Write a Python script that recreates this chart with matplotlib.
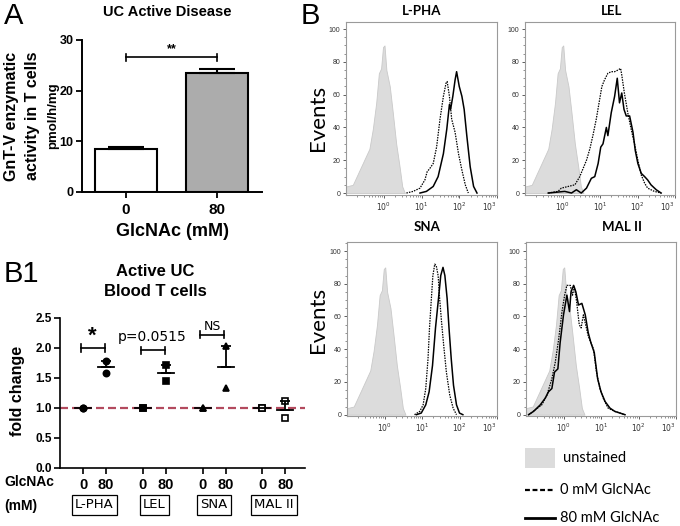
import numpy as np
import matplotlib
matplotlib.use("Agg")
import matplotlib.pyplot as plt
from matplotlib.patches import Rectangle
from matplotlib.lines import Line2D
from matplotlib.ticker import AutoMinorLocator, LogLocator, NullFormatter
from matplotlib.transforms import blended_transform_factory

plt.rcParams["font.family"] = ["Liberation Sans", "DejaVu Sans"]

W, H = 680, 526

# ---- Panel A: GnT-V activity ----
a_groups = ["0", "80"]
a_means = [8.5, 23.4]
a_sem = [0.35, 0.8]

# ---- Panel B1: fold change per lectin ----
lectins = ["L-PHA", "LEL", "SNA", "MAL II"]
fold_0mM = [[1.0, 1.0], [1.0, 1.0], [1.0, 1.0], [1.0, 1.0]]
fold_80mM = [[1.78, 1.59], [1.71, 1.45], [2.03, 1.34], [1.12, 0.83]]
b1_markers = ["o", "s", "^", "s"]
b1_filled = [True, True, True, False]

# ---- Panel B: flow histograms (log10 intensity, events) ----
unst_log = [-1.00, -0.82, -0.56, -0.38, -0.29, -0.20, -0.13, -0.07, -0.02, 0.02,
            0.07, 0.16, 0.24, 0.33, 0.42, 0.49, 0.56]
unst_cnt = [4, 5, 18, 27, 39, 55, 73, 76, 89, 90, 75, 65, 49, 30, 16, 4, 0]

lpha0_log = [0.60, 0.78, 0.96, 1.09, 1.15, 1.22, 1.31, 1.40, 1.49, 1.58, 1.65, 1.68,
             1.74, 1.80, 1.89, 1.98, 2.07, 2.16, 2.24]
lpha0_cnt = [0, 1, 3, 8, 13, 15, 18, 28, 45, 59, 67, 68, 59, 45, 37, 24, 14, 5, 0]
lpha80_log = [0.96, 1.13, 1.31, 1.44, 1.58, 1.67, 1.74, 1.77, 1.83, 1.89, 1.93, 2.00,
              2.07, 2.13, 2.20, 2.29, 2.38, 2.47]
lpha80_cnt = [0, 1, 4, 10, 24, 39, 54, 51, 59, 69, 74, 65, 59, 51, 35, 16, 4, 0]

lel0_log = [-0.38, -0.12, -0.03, 0.15, 0.33, 0.46, 0.55, 0.64, 0.73, 0.81, 0.90, 0.99,
            1.05, 1.12, 1.21, 1.30, 1.39, 1.48, 1.55, 1.58, 1.65, 1.74, 1.83, 1.92,
            2.01, 2.10, 2.19, 2.27, 2.45, 2.63]
lel0_cnt = [0, 1, 3, 4, 5, 10, 15, 20, 27, 35, 45, 57, 65, 69, 73, 74, 74, 75, 76, 72,
            61, 49, 39, 30, 20, 11, 6, 3, 1, 0]
lel80_log = [-0.38, 0.06, 0.24, 0.37, 0.50, 0.64, 0.77, 0.86, 0.95, 1.02, 1.08, 1.17,
             1.21, 1.30, 1.39, 1.46, 1.52, 1.58, 1.64, 1.70, 1.79, 1.88, 1.94, 2.01,
             2.10, 2.19, 2.27, 2.36, 2.50, 2.63]
lel80_cnt = [0, 1, 0, 2, 0, 3, 9, 10, 18, 28, 30, 40, 35, 49, 59, 70, 55, 61, 51, 47,
             47, 37, 26, 18, 12, 10, 8, 5, 2, 0]

sna0_log = [0.80, 0.94, 1.03, 1.10, 1.16, 1.20, 1.25, 1.29, 1.34, 1.38, 1.43, 1.47,
            1.52, 1.58, 1.65, 1.74, 1.83, 1.92]
sna0_cnt = [0, 2, 6, 16, 34, 53, 71, 85, 92, 91, 85, 71, 57, 42, 26, 12, 4, 0]
sna80_log = [0.85, 0.98, 1.10, 1.19, 1.28, 1.36, 1.44, 1.50, 1.56, 1.61, 1.67, 1.72,
             1.78, 1.84, 1.92, 2.00, 2.09]
sna80_cnt = [0, 1, 6, 14, 30, 53, 71, 85, 90, 85, 71, 53, 34, 18, 6, 1, 0]

mal0_log = [-0.93, -0.75, -0.58, -0.44, -0.31, -0.22, -0.13, -0.04, 0.03, 0.09, 0.18,
            0.24, 0.29, 0.35, 0.42, 0.47, 0.53, 0.59, 0.66, 0.73, 0.80, 0.88, 0.97,
            1.06, 1.19, 1.37, 1.64]
mal0_cnt = [0, 3, 6, 12, 22, 32, 46, 63, 73, 79, 79, 73, 78, 69, 55, 53, 61, 55, 48,
            44, 40, 26, 16, 10, 4, 2, 0]
mal80_log = [-0.93, -0.80, -0.62, -0.49, -0.40, -0.31, -0.24, -0.15, -0.09, 0.00, 0.09,
             0.16, 0.20, 0.27, 0.33, 0.40, 0.49, 0.58, 0.66, 0.73, 0.82, 0.91, 1.00,
             1.11, 1.24, 1.37, 1.64]
mal80_cnt = [0, 2, 6, 10, 14, 16, 26, 28, 44, 61, 73, 63, 75, 79, 75, 67, 68, 61, 50,
             44, 38, 22, 14, 8, 4, 2, 0]

flow_panels = [
    ("L-PHA", (lpha0_log, lpha0_cnt), (lpha80_log, lpha80_cnt)),
    ("LEL", (lel0_log, lel0_cnt), (lel80_log, lel80_cnt)),
    ("SNA", (sna0_log, sna0_cnt), (sna80_log, sna80_cnt)),
    ("MAL II", (mal0_log, mal0_cnt), (mal80_log, mal80_cnt)),
]


def box(l, t, r, b):
    return fig.add_axes([l / W, 1 - b / H, (r - l) / W, (b - t) / H])


def ftext(x, y, s, **kw):
    kw.setdefault("ha", "center")
    kw.setdefault("va", "center")
    return fig.text(x / W, 1 - y / H, s, **kw)


fig = plt.figure(figsize=(6.8, 5.26), dpi=100)

# ═══════════════ Panel A ═══════════════
ax = box(82, 40, 262, 192)
xa = np.arange(len(a_groups))
ax.bar(xa, a_means, width=0.68, color=["white", "#acacac"], edgecolor="black",
       linewidth=1.5, zorder=2)
ax.errorbar(xa, a_means, yerr=[[0, 0], a_sem], fmt="none", ecolor="black",
            elinewidth=1.5, capsize=13, capthick=1.5, zorder=3)
ax.set_xlim(-0.48, 1.49)
ax.set_ylim(0, 30)
ax.set_yticks([0, 10, 20, 30])
ax.set_xticks(xa)
ax.set_xticklabels(a_groups, fontsize=11, fontweight="bold")
for lab in ax.get_yticklabels():
    lab.set_fontsize(9)
    lab.set_fontweight("bold")
for s in ["top", "right"]:
    ax.spines[s].set_visible(False)
for s in ["left", "bottom"]:
    ax.spines[s].set_linewidth(1.4)
ax.tick_params(direction="out", length=4, width=1.3, pad=2)
ax.tick_params(axis="x", pad=4)
ax.plot([0, 1], [26.6, 26.6], color="black", lw=1.2)
for xe in [0, 1]:
    ax.plot([xe, xe], [25.9, 27.3], color="black", lw=1.2)
ax.text(0.5, 27.0, "**", ha="center", va="bottom", fontsize=9, fontweight="bold")

ftext(4, 16, "A", ha="left", fontsize=21)
ftext(167, 12, "UC Active Disease", fontsize=10.5, fontweight="bold")
ftext(172, 232, "GlcNAc (mM)", fontsize=13, fontweight="bold")
ftext(12, 116, "GnT-V enzymatic", rotation=90, fontsize=11.5, fontweight="bold")
ftext(32, 116, "activity in T cells", rotation=90, fontsize=11.5, fontweight="bold")
ftext(53, 116, "pmol/h/mg", rotation=90, fontsize=9.5, fontweight="bold")

# ═══════════════ Panel B1 ═══════════════
ax = box(60, 318, 305, 468)
ax.set_xlim(-1.0, 9.65)
ax.set_ylim(0, 2.5)
ax.axhline(1.0, color="#b34a5e", lw=1.6, dashes=(3.6, 1.8), zorder=1)
xpos = []
for g, name in enumerate(lectins):
    base = g * 2.6
    for dx, vals in [(0, fold_0mM[g]), (1, fold_80mM[g])]:
        x = base + dx
        xpos.append(x)
        v = np.array(vals)
        m = v.mean()
        sem = v.std(ddof=1) / np.sqrt(len(v))
        fc = "black" if b1_filled[g] else "white"
        ax.plot([x] * len(v), v, ls="none", marker=b1_markers[g], ms=4.5,
                mfc=fc, mec="black", mew=1.2, zorder=3)
        ax.plot([x - 0.35, x + 0.35], [m, m], color="black", lw=1.3, zorder=4)
        if sem > 0:
            ax.errorbar([x], [m], yerr=[[0], [sem]], fmt="none", ecolor="black",
                        elinewidth=1.3, capsize=3.5, capthick=1.3, zorder=4)
ax.set_xticks(xpos)
ax.set_xticklabels(["0", "80"] * len(lectins), fontsize=10.5, fontweight="bold")
ax.set_yticks([0.0, 0.5, 1.0, 1.5, 2.0, 2.5])
ax.set_yticklabels(["0.0", "0.5", "1.0", "1.5", "2.0", "2.5"], fontsize=8.5,
                   fontweight="bold")
for s in ["top", "right"]:
    ax.spines[s].set_visible(False)
for s in ["left", "bottom"]:
    ax.spines[s].set_linewidth(1.2)
ax.tick_params(direction="out", length=4, width=1.2, pad=2)
ax.tick_params(axis="x", pad=3)

brackets = [(0, 2.0, "*", 16, "bold", "Liberation Sans", 2.07),
            (1, 1.96, "p=0.0515", 10, "normal", "DejaVu Sans", 2.07),
            (2, 2.22, "NS", 9, "normal", "DejaVu Sans", 2.25)]
for g, yb, txt, fs, fw, fam, yt in brackets:
    x0, x1 = g * 2.6 - 0.1, g * 2.6 + 0.95
    ax.plot([x0, x1], [yb, yb], color="black", lw=1.2)
    for xe in [x0, x1]:
        ax.plot([xe, xe], [yb - 0.06, yb + 0.06], color="black", lw=1.2)
    ax.text((x0 + x1) / 2, yt if g != 0 else yb + 0.02, txt, ha="center",
            va="bottom", fontsize=fs, fontweight=fw, family=fam)

trans = blended_transform_factory(ax.transData, ax.transAxes)
for g, name in enumerate(lectins):
    ax.text(g * 2.6 + 0.5, -0.245, name, transform=trans, ha="center", va="center",
            fontsize=9.5, family="DejaVu Sans",
            bbox=dict(boxstyle="square,pad=0.25", fc="white", ec="black", lw=0.9))

ftext(4, 274, "B1", ha="left", fontsize=21)
ftext(155, 272, "Active UC", fontsize=12, fontweight="bold")
ftext(155, 292, "Blood T cells", fontsize=12, fontweight="bold")
ftext(18, 391, "fold change", rotation=90, fontsize=11.5, fontweight="bold")
ftext(4, 482, "GlcNAc", ha="left", fontsize=10, fontweight="bold")
ftext(4, 506, "(mM)", ha="left", fontsize=10, fontweight="bold")

# ═══════════════ Panel B: flow histograms ═══════════════
boxes = [(346, 22, 497, 195, -1.2, 104.3), (525, 22, 675, 195, -1.2, 104.3),
         (347, 242, 497, 416, -0.8, 105.5), (526, 242, 676, 416, -0.8, 105.5)]
title_pos = [(422, 11), (612, 11), (427, 227), (622, 227)]
for (name, c0, c80), (l, t, r, b, y0, y1), (tx, ty) in zip(flow_panels, boxes, title_pos):
    ax = box(l, t, r, b)
    ax.set_xscale("log")
    ax.fill_between(10 ** np.array(unst_log), unst_cnt, color="#dcdcdc",
                    edgecolor="#c9c9c9", lw=0.6, zorder=1)
    ax.plot(10 ** np.array(c0[0]), c0[1], color="black", lw=0.9, ls=(0, (1.2, 0.9)),
            zorder=2)
    ax.plot(10 ** np.array(c80[0]), c80[1], color="black", lw=1.1, zorder=3)
    ax.set_xlim(0.1, 1000)
    ax.set_ylim(y0, y1)
    ax.set_xticks([1, 10, 100, 1000])
    ax.set_xticklabels(["$10^0$", "$10^1$", "$10^2$", "$10^3$"], fontsize=5.5)
    xlabs = ax.get_xticklabels()
    xlabs[-1].set_horizontalalignment("right")
    ax.xaxis.set_minor_locator(LogLocator(base=10, subs=np.arange(2, 10)))
    ax.xaxis.set_minor_formatter(NullFormatter())
    ax.set_yticks([0, 20, 40, 60, 80, 100])
    ax.set_yticklabels(["0", "20", "40", "60", "80", "100"], fontsize=5)
    ax.yaxis.set_minor_locator(AutoMinorLocator(4))
    ax.tick_params(which="major", length=2.5, width=0.6, color="#444",
                   labelcolor="#333", pad=1.5)
    ax.tick_params(which="minor", length=1.3, width=0.5, color="#666")
    for s in ax.spines.values():
        s.set_color("#9a9a9a")
        s.set_linewidth(0.8)
    ftext(tx, ty, name, fontsize=9.5, fontweight="bold", family="Lato")

ftext(310, 16, "B", fontsize=21)
ftext(318, 118, "Events", rotation=90, fontsize=16, family="Lato")
ftext(318, 320, "Events", rotation=90, fontsize=16, family="Lato")

# legend
fig.add_artist(Rectangle((525 / W, 1 - 468 / H), 30 / W, 20 / H,
                         transform=fig.transFigure, fc="#dcdcdc", ec="none"))
fig.add_artist(Line2D([525 / W, 555 / W], [1 - 490 / H] * 2, transform=fig.transFigure,
                      color="black", lw=1.6, ls=(0, (2.2, 1.2))))
fig.add_artist(Line2D([525 / W, 555 / W], [1 - 518 / H] * 2, transform=fig.transFigure,
                      color="black", lw=2.0))
ftext(563, 458, "unstained", ha="left", fontsize=10.5, family="Lato")
ftext(560, 490, "0 mM GlcNAc", ha="left", fontsize=10.5, family="Lato")
ftext(560, 518, "80 mM GlcNAc", ha="left", fontsize=10.5, family="Lato")

fig.savefig("out.png", dpi=100)
